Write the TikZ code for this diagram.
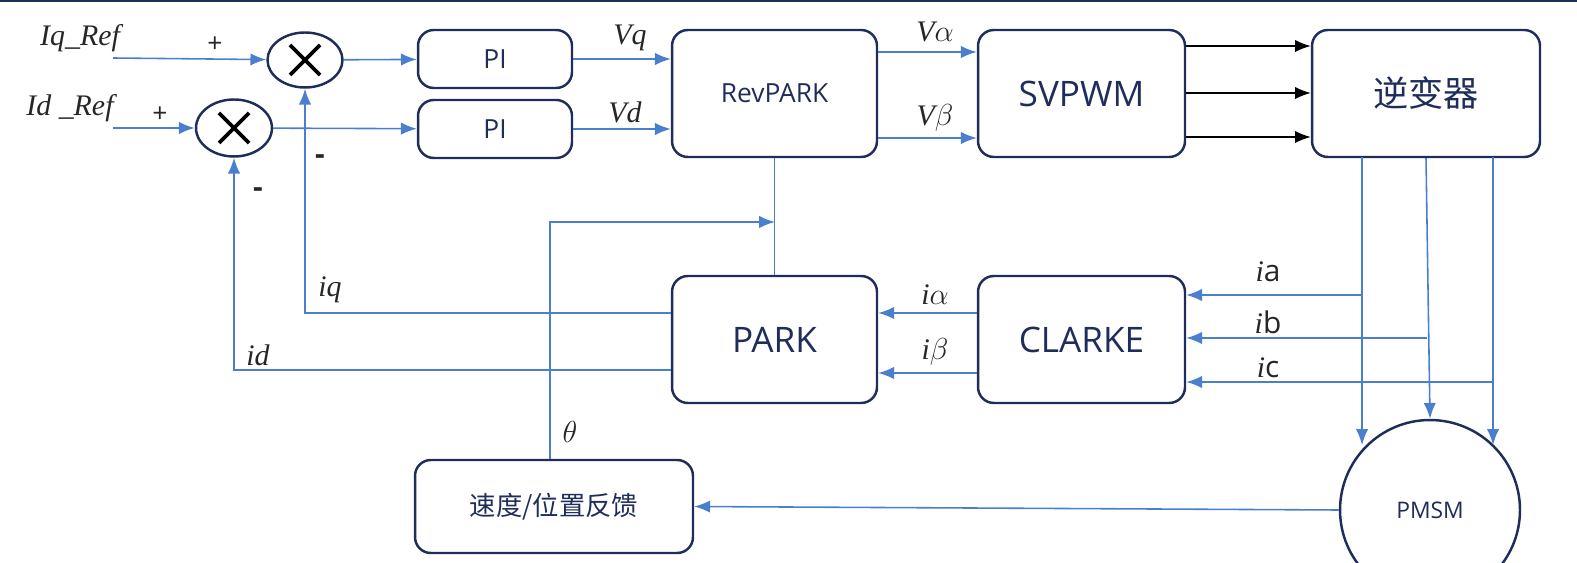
\documentclass[tikz,border=0pt]{standalone}
\usepackage{fontspec}
\setmainfont{Open Sans}
\newfontfamily\cjk{Noto Sans CJK SC}
\newfontfamily\tms{Liberation Serif}
\usetikzlibrary{positioning,arrows.meta}
\definecolor{navy}{HTML}{1F2D5A}
\definecolor{wire}{HTML}{4A7FD0}
\tikzset{
  blk/.style={draw=navy, line width=1.4pt, rounded corners=9pt, text=navy, align=center},
  sum/.style={draw=navy, line width=1.4pt, ellipse, inner sep=0pt},
  lab/.style={text=black!85, font=\tms\itshape\fontsize{17}{17}\selectfont},
  sgn/.style={text=black!85, font=\fontsize{15}{15}\selectfont},
  sig/.style={draw=wire, line width=0.9pt, -{Latex[length=9pt,width=7pt]}},
  pwm/.style={draw=black, line width=0.8pt, -{Latex[length=9pt,width=7pt]}}
}
\usetikzlibrary{shapes.geometric}
\begin{document}
\begin{tikzpicture}[x=0.02cm,y=-0.02cm]
\useasboundingbox (0,0) rectangle (1577,563);
\draw[navy, line width=1.2pt] (0,1) -- (1577,1);

\node[blk, minimum width=3.08cm, minimum height=1.16cm, font=\fontsize{15}{15}\selectfont] (PIq) at (495,59) {PI};
\node[blk, minimum width=3.08cm, minimum height=1.16cm, font=\fontsize{15}{15}\selectfont] (PId) at (495,129) {PI};
\node[blk, minimum width=4.1cm, minimum height=2.54cm, font=\fontsize{15}{15}\selectfont] (RP) at (774.5,93.5) {RevPARK};
\node[blk, minimum width=4.14cm, minimum height=2.54cm, font=\fontsize{20}{20}\selectfont] (SV) at (1081.5,93.5) {SVPWM};
\node[blk, minimum width=4.56cm, minimum height=2.54cm, font=\cjk\fontsize{20}{20}\selectfont] (INV) at (1426,93.5) {逆变器};
\node[blk, minimum width=4.1cm, minimum height=2.54cm, font=\fontsize{20}{20}\selectfont] (PK) at (774.5,339.5) {PARK};
\node[blk, minimum width=4.14cm, minimum height=2.54cm, font=\fontsize{20}{20}\selectfont] (CL) at (1081.5,339.5) {CLARKE};
\node[blk, minimum width=5.56cm, minimum height=1.86cm, font=\cjk\fontsize{15}{15}\selectfont] (SP) at (554,506.5) {速度/位置反馈};
\node[draw=navy, line width=1.4pt, circle, minimum size=3.6cm, text=navy, font=\fontsize{13}{13}\selectfont] (PM) at (1430,510) {PMSM};

\node[sum, minimum width=1.5cm, minimum height=1.1cm] (S1) at (305,60) {};
\node[sum, minimum width=1.52cm, minimum height=1.14cm] (S2) at (234,128) {};
\foreach \s in {S1,S2}
  \draw[black, line width=2.2pt] ([shift={(-15,-15)}]\s.center) -- ([shift={(15,15)}]\s.center)
    ([shift={(-15,15)}]\s.center) -- ([shift={(15,-15)}]\s.center);

\coordinate (Iq) at (113,58);
\coordinate (Id) at (113,128);
\node[lab] at (80,38) {Iq\_Ref};
\node[lab] at (70,108) {Id \_Ref};
\node[sgn] at (215,45) {+};
\node[sgn] at (160,115) {+};
\node[sgn, font=\bfseries\fontsize{17}{17}\selectfont] at (320,160) {-};
\node[sgn, font=\bfseries\fontsize{17}{17}\selectfont] at (258,193) {-};

\draw[sig] (Iq) -- (S1);
\draw[sig] (Id) -- (S2);
\draw[sig] (S1) -- (PIq);
\draw[sig] (S2) -- (PId);
\draw[sig] (PIq) -- (RP.west |- PIq);
\draw[sig] (PId) -- (RP.west |- PId);
\node[lab] at (630,38) {Vq};
\node[lab] at (625,112) {Vd};
\draw[sig] (RP.east |- 0,52) -- (SV.west |- 0,52);
\draw[sig] (RP.east |- 0,138) -- (SV.west |- 0,138);
\node[lab] at (935,32) {V$\alpha$};
\node[lab] at (935,118) {V$\beta$};

\foreach \y in {46,93,137}
  \draw[pwm] (SV.east |- 0,\y) -- (INV.west |- 0,\y);

% phase currents
\draw[sig] (1362,157) -- (1362,445);
\draw[sig] (INV.south) -- (PM.north);
\draw[sig] (1493,157) -- (1493,445);
\draw[sig] (1362,295) -- (CL.east |- 0,295);
\draw[sig] (1427,338) -- (CL.east |- 0,338);
\draw[sig] (1493,382) -- (CL.east |- 0,382);
\node[lab] at (1268,272) {i\textup{\fontspec{Open Sans}a}};
\node[lab] at (1268,322) {i\textup{\fontspec{Open Sans}b}};
\node[lab] at (1268,368) {i\textup{\fontspec{Open Sans}c}};

\draw[sig] (CL.west |- 0,313) -- (PK.east |- 0,313);
\draw[sig] (CL.west |- 0,373) -- (PK.east |- 0,373);
\node[lab] at (935,295) {i$\alpha$};
\node[lab] at (935,352) {i$\beta$};

% feedback
\draw[wire, line width=0.9pt] (RP.south) -- (PK.north);
\draw[sig] (PK.west |- 0,313) -- (305,313) -- (S1.south);
\draw[sig] (PK.west |- 0,370) -- (234,370) -- (S2.south);
\node[lab] at (330,290) {iq};
\node[lab] at (258,355) {id};
\draw[sig] (SP.north -| 550,0) -- (550,222) -- (775,222);
\node[lab] at (570,432) {$\theta$};
\draw[sig] (PM.west) -- (SP.east);
\end{tikzpicture}
\end{document}
